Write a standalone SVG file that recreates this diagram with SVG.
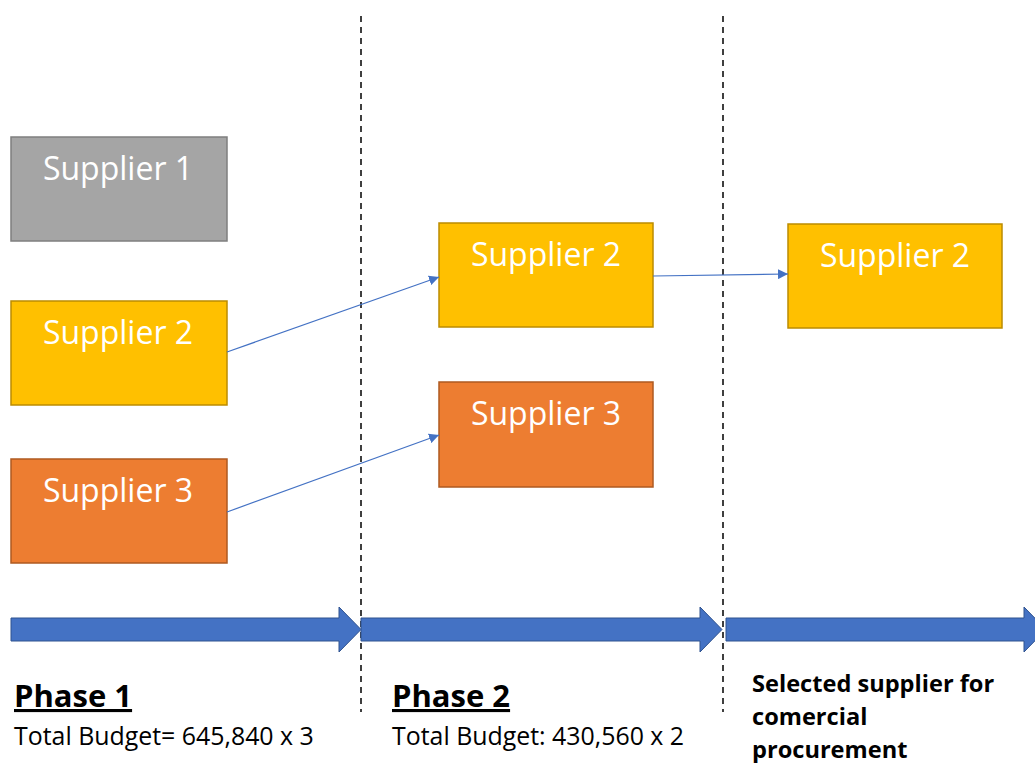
<svg xmlns="http://www.w3.org/2000/svg" width="1035" height="763" viewBox="0 0 1035 763">
<style>
.box text{font-family:"Open Sans","Noto Sans",sans-serif;font-size:32px;fill:#fff;text-anchor:middle}
.gray{fill:#A5A5A5;stroke:#7F7F7F;stroke-width:1.5}
.gold{fill:#FFC000;stroke:#BC8C00;stroke-width:1.5}
.orange{fill:#ED7D31;stroke:#AE5A21;stroke-width:1.5}
.div{stroke:#000;stroke-width:1.5;stroke-dasharray:6,5}
.conn{stroke:#4472C4;stroke-width:1.2;fill:none;marker-end:url(#ah)}
.big{fill:#4472C4;stroke:#2F528F;stroke-width:1}
.ph{font-family:"Open Sans","Noto Sans",sans-serif;font-weight:bold;font-size:31px;fill:#000;text-decoration:underline}
.bud{font-family:"Open Sans","Noto Sans",sans-serif;font-size:24.9px;fill:#000}
.sel{font-family:"Open Sans","Noto Sans",sans-serif;font-weight:bold;font-size:23.6px;fill:#000}
</style>
<defs>
<marker id="ah" viewBox="0 0 10 10" refX="10" refY="5" markerWidth="10" markerHeight="10" markerUnits="userSpaceOnUse" orient="auto">
<path d="M0,0 L10,5 L0,10 z" fill="#4472C4"/>
</marker>
</defs>
<rect width="1035" height="763" fill="#fff"/>
<g id="dividers">
<line class="div" x1="361" y1="16" x2="361" y2="712"/>
<line class="div" x1="723" y1="16" x2="723" y2="712"/>
</g>
<g id="timeline">
<path class="big" d="M11,618 H339 V607 L361,629.5 L339,652 V641 H11 Z"/>
<path class="big" d="M361,618 H700 V607 L722,629.5 L700,652 V641 H361 Z"/>
<path class="big" d="M726,618 H1024 V607 L1046,629.5 L1024,652 V641 H726 Z"/>
</g>
<g id="p1s1" class="box"><rect class="gray" x="11" y="137" width="216" height="104"/><text x="118" y="180">Supplier 1</text></g>
<g id="p1s2" class="box"><rect class="gold" x="11" y="301" width="216" height="104"/><text x="118" y="344">Supplier 2</text></g>
<g id="p1s3" class="box"><rect class="orange" x="11" y="459" width="216" height="104"/><text x="118" y="502">Supplier 3</text></g>
<g id="p2s2" class="box"><rect class="gold" x="439" y="223" width="214" height="104"/><text x="546" y="266">Supplier 2</text></g>
<g id="p2s3" class="box"><rect class="orange" x="439" y="382" width="214" height="105"/><text x="546" y="425">Supplier 3</text></g>
<g id="fs2" class="box"><rect class="gold" x="788" y="224" width="214" height="104"/><text x="895" y="267">Supplier 2</text></g>
<g id="connectors">
<line class="conn" x1="227" y1="352" x2="439" y2="277"/>
<line class="conn" x1="227" y1="512" x2="439" y2="435"/>
<line class="conn" x1="653" y1="276" x2="788" y2="274"/>
</g>
<g id="labels">
<text class="ph" x="14" y="707">Phase 1</text>
<text class="bud" x="14" y="745">Total Budget= 645,840 x 3</text>
<text class="ph" x="392" y="707">Phase 2</text>
<text class="bud" x="392" y="745">Total Budget: 430,560 x 2</text>
<text class="sel" x="752" y="692">Selected supplier for</text>
<text class="sel" x="752" y="725">comercial</text>
<text class="sel" x="752" y="758">procurement</text>
</g>
</svg>
